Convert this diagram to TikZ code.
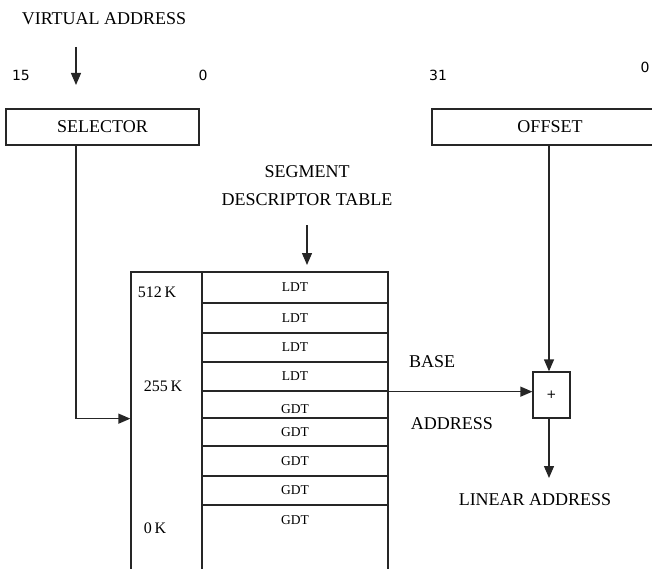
\documentclass[tikz,border=0pt]{standalone}
\usepackage{fontspec}
\setmainfont{Liberation Serif}
\newfontfamily\numfont{DejaVu Sans}
\usetikzlibrary{arrows.meta}
\tikzset{
  line/.style={line width=1.3pt, draw=black!85},
  arr/.style={line, -{Triangle[length=12pt,width=10pt]}},
  lbl/.style={inner sep=0pt, font=\fontsize{18}{20}\selectfont},
  num/.style={inner sep=0pt, font=\numfont\fontsize{14}{16}\selectfont},
  kb/.style={inner sep=0pt, font=\fontsize{16}{18}\selectfont},
  regbox/.style={line, minimum height=36pt, inner sep=0pt, font=\fontsize{18}{20}\selectfont},
  cell/.style={line, minimum width=186pt, inner sep=0pt, font=\fontsize{13.5}{15}\selectfont},
}
\begin{document}
\begin{tikzpicture}[x=1pt,y=-1pt]
  \useasboundingbox (0,0) rectangle (652,569);

  % virtual address: selector and offset
  \node[lbl] (va) at (104,19) {VIRTUAL ADDRESS};
  \coordinate (vatop) at (76,47);
  \coordinate (vaend) at (76,85);
  \draw[arr] (vatop) -- (vaend);
  \node[num] (b15) at (21,75) {15};
  \node[num] (b0a) at (203,75) {0};
  \node[num] (b31) at (438,75) {31};
  \node[num] (b0b) at (645,67) {0};
  \node[regbox, minimum width=193pt] (sel) at (102.5,127) {SELECTOR};
  \node[regbox, minimum width=236pt] (off) at (550,127) {OFFSET};

  % segment descriptor table
  \node[lbl] (sdt1) at (307,172) {SEGMENT};
  \node[lbl] (sdt2) at (307,200) {DESCRIPTOR TABLE};
  \coordinate (sdttop) at (307,225);
  \coordinate (sdtend) at (307,265);
  \draw[arr] (sdttop) -- (sdtend);

  \node[line, minimum width=71pt, minimum height=303pt, inner sep=0pt] (lcol) at (166.5,423.5) {};
  \node[cell, minimum height=31pt] (r1) at (295,287.5) {LDT};
  \node[cell, minimum height=30pt] (r2) at (295,318) {LDT};
  \node[cell, minimum height=29pt] (r3) at (295,347.5) {LDT};
  \node[cell, minimum height=29pt] (r4) at (295,376.5) {LDT};
  \node[cell, minimum height=27pt] (r5) at (295,404.5) {};
  \node[cell, minimum height=28pt] (r6) at (295,432) {GDT};
  \node[cell, minimum height=30pt] (r7) at (295,461) {GDT};
  \node[cell, minimum height=29pt] (r8) at (295,490.5) {GDT};
  \node[cell, minimum height=70pt] (r9) at (295,540) {};
  \node[cell, draw=none] (g5) at (295,409) {GDT};
  \node[cell, draw=none] (g9) at (295,520) {GDT};

  \node[kb] (k512) at (157,292) {512\,K};
  \node[kb] (k255) at (163,386) {255\,K};
  \node[kb] (k0) at (155,528) {0\,K};

  % adder
  \node[line, minimum width=37pt, minimum height=46pt, inner sep=0pt, font=\numfont\fontsize{12}{14}\selectfont] (plus) at (551.5,395) {+};
  \node[lbl] (base) at (432,362) {BASE};
  \node[lbl] (baddr) at (452,424) {ADDRESS};
  \node[lbl] (lin) at (535,500) {LINEAR ADDRESS};
  \coordinate (linend) at (549,478);

  % connectors
  \coordinate (selout) at (76,145);
  \draw[arr] (selout) |- (lcol.west |- r5.south);
  \draw[arr] (off.south -| 549,0) -- (plus.north -| 549,0);
  \draw[arr] (r4.south east) -- (plus.west |- r4.south);
  \draw[arr] (plus.south -| linend) -- (linend);
\end{tikzpicture}
\end{document}
